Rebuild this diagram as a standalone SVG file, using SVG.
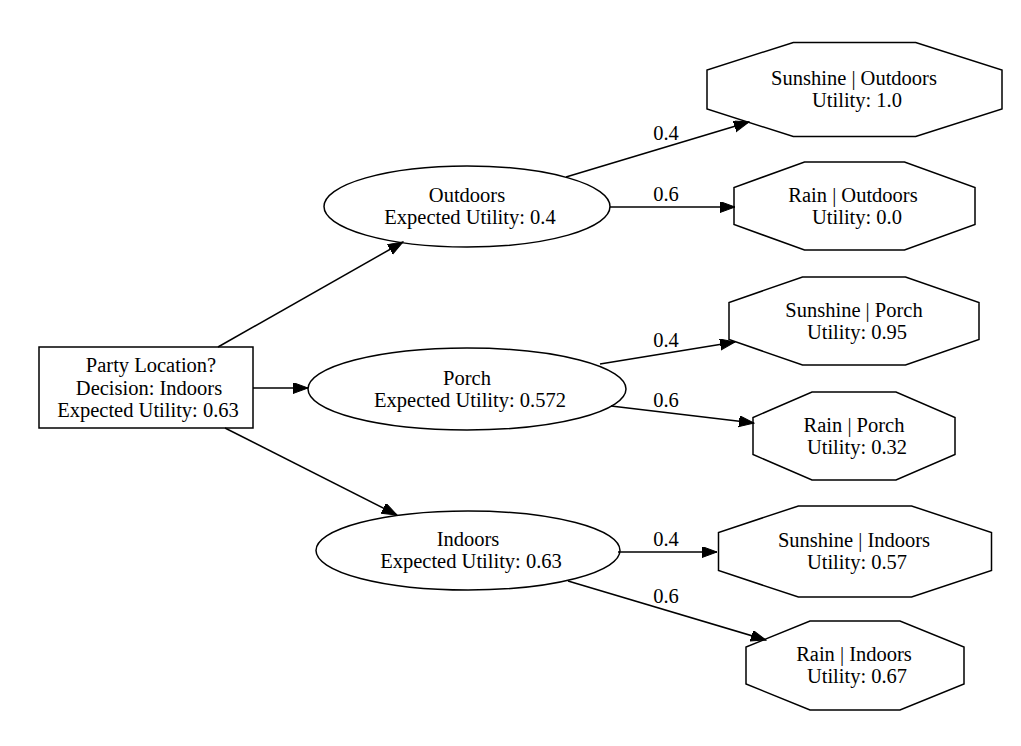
<svg xmlns="http://www.w3.org/2000/svg" width="1021" height="746" viewBox="0 0 1021 746">
<defs>
<style>
.shape{fill:none;stroke:#000;stroke-width:1.5}
.edge{stroke:#000;stroke-width:1.5;fill:none;marker-end:url(#arr)}
text{font-family:"Liberation Serif","Times New Roman",serif;font-size:20.5px;fill:#000;text-anchor:middle}
</style>
<marker id="arr" markerUnits="userSpaceOnUse" markerWidth="16" markerHeight="12" refX="15" refY="5.5" orient="auto">
<path d="M0,0 L15,5.5 L0,11 Z" fill="#000" stroke="#000" stroke-width="1"/>
</marker>
</defs>
<rect width="1021" height="746" fill="#fff"/>
<g id="connectors">
<line class="edge" x1="218" y1="347" x2="403" y2="242"/>
<line class="edge" x1="253" y1="388" x2="308" y2="388"/>
<line class="edge" x1="225" y1="428" x2="397" y2="515"/>
<line class="edge" x1="566" y1="177" x2="749" y2="122"/>
<text x="666" y="140">0.4</text>
<line class="edge" x1="610" y1="207" x2="735" y2="207"/>
<text x="666" y="201">0.6</text>
<line class="edge" x1="600" y1="364" x2="735" y2="342"/>
<text x="666" y="347">0.4</text>
<line class="edge" x1="611" y1="406" x2="754" y2="423"/>
<text x="666" y="407">0.6</text>
<line class="edge" x1="618" y1="552" x2="717" y2="552"/>
<text x="666" y="546">0.4</text>
<line class="edge" x1="568" y1="581" x2="766" y2="640"/>
<text x="666" y="603">0.6</text>
</g>
<g id="party_location">
<rect class="shape" x="39" y="347" width="214" height="81"/>
<text x="151" y="372">Party Location?</text>
<text x="149" y="395">Decision: Indoors</text>
<text x="148" y="417">Expected Utility: 0.63</text>
</g>
<g id="outdoors">
<ellipse class="shape" cx="467" cy="206.5" rx="143" ry="40.5"/>
<text x="467" y="202">Outdoors</text>
<text x="470" y="224">Expected Utility: 0.4</text>
</g>
<g id="porch">
<ellipse class="shape" cx="467" cy="389" rx="159" ry="41"/>
<text x="467" y="384.5">Porch</text>
<text x="470" y="406.5">Expected Utility: 0.572</text>
</g>
<g id="indoors">
<ellipse class="shape" cx="468" cy="550.5" rx="152" ry="39.5"/>
<text x="468" y="546">Indoors</text>
<text x="471" y="568">Expected Utility: 0.63</text>
</g>
<g id="sunshine_outdoors">
<polygon class="shape" points="793.3,42.5 915.7,42.5 1002,70 1002,109 915.7,136.5 793.3,136.5 707,109 707,70"/>
<text x="854" y="85">Sunshine | Outdoors</text>
<text x="857" y="107">Utility: 1.0</text>
</g>
<g id="rain_outdoors">
<polygon class="shape" points="804.5,162 904.5,162 975,187.5 975,224.5 904.5,250 804.5,250 734,224.5 734,187.5"/>
<text x="853" y="201.5">Rain | Outdoors</text>
<text x="857" y="223.5">Utility: 0.0</text>
</g>
<g id="sunshine_porch">
<polygon class="shape" points="802.5,277 905.5,277 979,302.5 979,339.5 905.5,365 802.5,365 729,339.5 729,302.5"/>
<text x="854" y="316.5">Sunshine | Porch</text>
<text x="857" y="338.5">Utility: 0.95</text>
</g>
<g id="rain_porch">
<polygon class="shape" points="812,392 896,392 955,417.5 955,454.5 896,480 812,480 753,454.5 753,417.5"/>
<text x="854" y="431.5">Rain | Porch</text>
<text x="857" y="453.5">Utility: 0.32</text>
</g>
<g id="sunshine_indoors">
<polygon class="shape" points="798.4,506 911.6,506 991.5,532.5 991.5,570.5 911.6,597 798.4,597 718.5,570.5 718.5,532.5"/>
<text x="854" y="547">Sunshine | Indoors</text>
<text x="857" y="569">Utility: 0.57</text>
</g>
<g id="rain_indoors">
<polygon class="shape" points="810,621 900,621 964,647 964,684 900,710 810,710 746,684 746,647"/>
<text x="854" y="661">Rain | Indoors</text>
<text x="857" y="683">Utility: 0.67</text>
</g>
</svg>
